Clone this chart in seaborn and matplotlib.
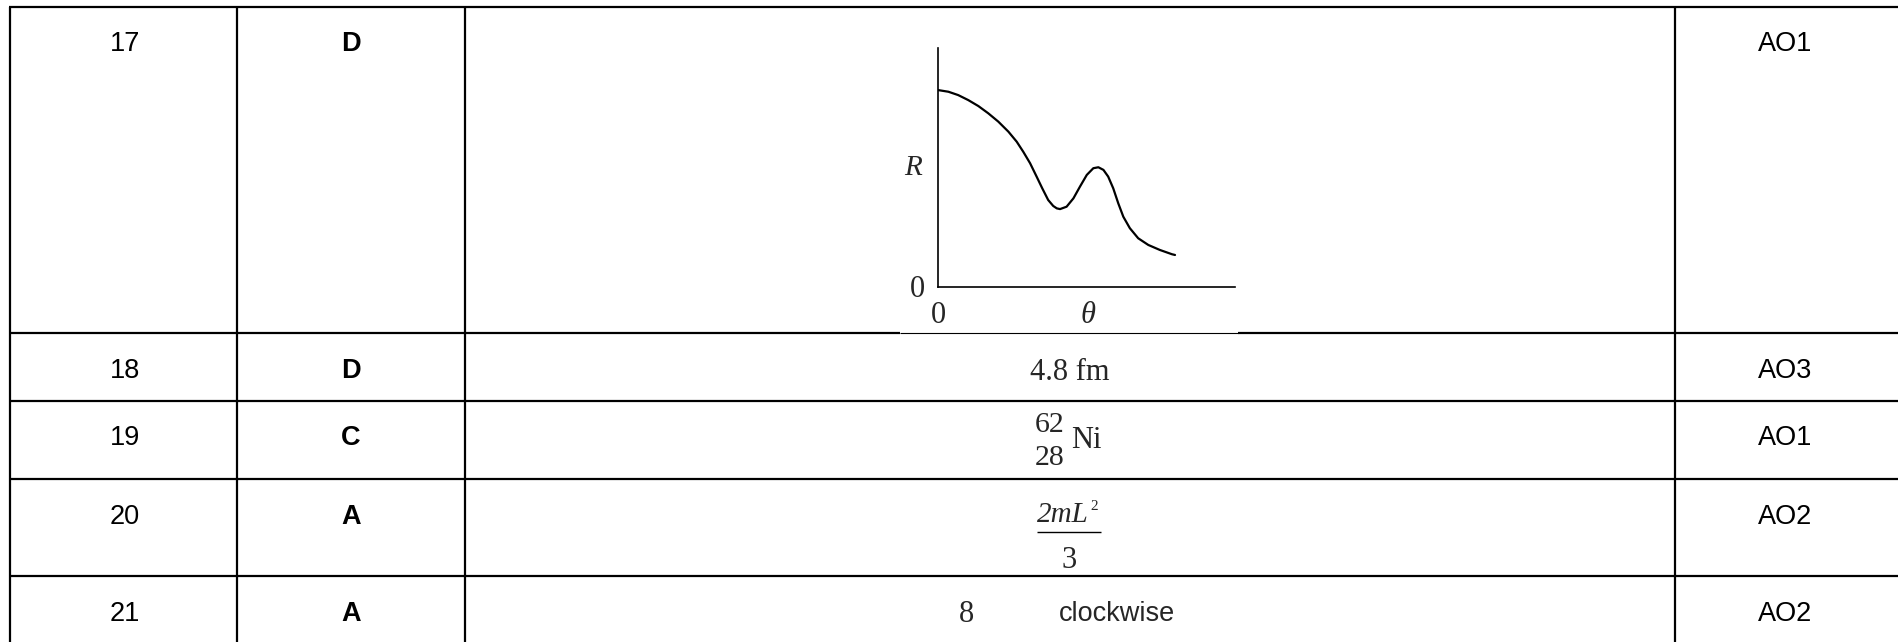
import pandas as pd
import matplotlib
matplotlib.use('Agg')
import matplotlib.pyplot as plt
import seaborn as sns

# 표 내용
questions = ['17', '18', '19', '20', '21']
answers = ['D', 'D', 'C', 'A', 'A']
objectives = ['AO1', 'AO3', 'AO1', 'AO2', 'AO2']

# 17번 그래프 (R - theta 곡선), 그림에서 읽은 값
theta = [0, 3.5, 6.8, 10.2, 13.6, 16.9, 20.3, 23.7, 26.5, 28.7, 31.0, 33.2, 35.1,
         37.1, 38.8, 40.0, 41.1, 43.3, 45.6, 47.8, 50.1, 52.3, 54.0, 55.7, 57.3,
         59.0, 60.7, 62.4, 64.6, 67.4, 70.8, 74.7, 78.8, 79.8]
R = [82.4, 81.7, 80.3, 78.2, 75.7, 72.7, 69.2, 65.0, 60.8, 56.6, 51.8, 46.2, 41.3,
     36.4, 33.9, 32.9, 32.6, 33.6, 37.1, 42.0, 46.9, 49.7, 50.1, 49.0, 46.2,
     41.3, 35.0, 29.4, 24.6, 20.4, 17.6, 15.5, 13.7, 13.4]

curve = pd.DataFrame({'theta': theta, 'R': R})

sns.set_theme(style='white')
plt.rcParams['font.family'] = ['Liberation Sans', 'DejaVu Sans']

W, H = 1898, 642
fig = plt.figure(figsize=(W / 100, H / 100), dpi=100)
ax = fig.add_axes([0, 0, 1, 1])
ax.set_xlim(0, W)
ax.set_ylim(H, 0)
ax.axis('off')

# 표 테두리
col_x = [10, 237, 465, 1675]
row_y = [7, 333, 401, 479, 576]
lw = 1.6
for x in col_x:
    ax.plot([x, x], [row_y[0], H], color='black', lw=lw, solid_capstyle='butt')
for y in row_y:
    if y == 333:
        # 그래프 그림이 선을 살짝 덮는 부분
        ax.plot([col_x[0], 900], [y, y], color='black', lw=lw, solid_capstyle='butt')
        ax.plot([900, 1238], [y, y], color='black', lw=0.8, solid_capstyle='butt')
        ax.plot([1238, W], [y, y], color='black', lw=lw, solid_capstyle='butt')
    else:
        ax.plot([col_x[0] - 1, W], [y, y], color='black', lw=lw, solid_capstyle='butt')

# 글자 (기준선 위치)
base_y = [51, 378, 445, 524, 621]
sans = 19.5
serif = ['Liberation Serif', 'DejaVu Serif']
for q, a, o, y in zip(questions, answers, objectives, base_y):
    ax.text(125, y, q, ha='center', va='baseline', fontsize=sans, color='black')
    ax.text(351, y, a, ha='center', va='baseline', fontsize=sans, fontweight='bold', color='black')
    ax.text(1785, y, o, ha='center', va='baseline', fontsize=sans, color='black')

# 가운데 열의 답
ax.text(1070, 380, '4.8 fm', ha='center', va='baseline', fontsize=22, family=serif)

ax.text(1050, 432, '62', ha='center', va='baseline', fontsize=21.5, family=serif)
ax.text(1050, 465, '28', ha='center', va='baseline', fontsize=21.5, family=serif)
ax.text(1071, 448, 'Ni', ha='left', va='baseline', fontsize=22, family=serif)

ax.text(1037, 522, '2mL', ha='left', va='baseline', fontsize=21, family=serif, style='italic')
ax.text(1090, 510, '2', ha='left', va='baseline', fontsize=11, family=serif)
ax.plot([1037, 1101], [532, 532], color='black', lw=1.0, solid_capstyle='butt')
ax.text(1069, 568, '3', ha='center', va='baseline', fontsize=22, family=serif)

ax.text(967, 622, '8', ha='center', va='baseline', fontsize=22, family=serif)
ax.text(1117, 621, 'clockwise', ha='center', va='baseline', fontsize=sans)

# 그래프 라벨
ax.text(913, 175, 'R', ha='center', va='baseline', fontsize=21, family=serif, style='italic')
ax.text(917, 297, '0', ha='center', va='baseline', fontsize=22, family=serif)
ax.text(938, 323, '0', ha='center', va='baseline', fontsize=22, family=serif)
ax.text(1088, 323, 'θ', ha='center', va='baseline', fontsize=22, family=serif, style='italic')

# 그래프 축
gx0, gx1, gy_top, gy_axis = 938, 1235, 48, 287
gax = fig.add_axes([gx0 / W, (H - gy_axis) / H, (gx1 - gx0) / W, (gy_axis - gy_top) / H])
gax.set_facecolor('none')
sns.lineplot(data=curve, x='theta', y='R', ax=gax, color='black', linewidth=1.6,
             sort=False, estimator=None)
gax.lines[-1].set_solid_joinstyle('round')
gax.lines[-1].set_solid_capstyle('round')
gax.set_xlim(0, 100)
gax.set_ylim(0, 100)
gax.set_xticks([])
gax.set_yticks([])
gax.set_xlabel('')
gax.set_ylabel('')
for s in ['top', 'right']:
    gax.spines[s].set_visible(False)
for s in ['left', 'bottom']:
    gax.spines[s].set_color('black')
    gax.spines[s].set_linewidth(1.2)

fig.savefig('out.png', dpi=100)
